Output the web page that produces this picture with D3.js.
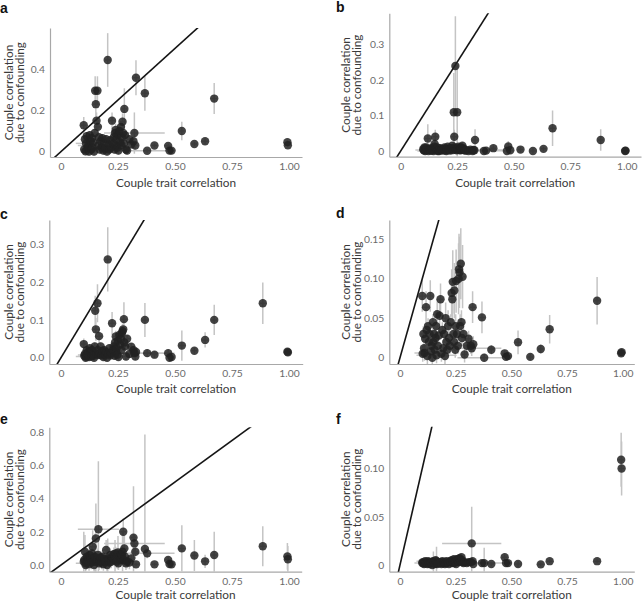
<!DOCTYPE html>
<html><head><meta charset="utf-8">
<script src="https://cdn.jsdelivr.net/npm/d3@7"></script>
<style>body{margin:0;background:#fff} svg{display:block}</style>
</head><body>
<svg id="chart" width="642" height="601"></svg>
<script>
// Couple trait correlation (shared across panels) and its CI half-width
const traitX = [0.100,0.102,0.105,0.108,0.110,0.113,0.117,0.120,0.123,0.126,
 0.130,0.133,0.136,0.139,0.142,0.145,0.148,0.150,0.153,0.156,
 0.160,0.162,0.164,0.167,0.170,0.174,0.178,0.182,0.186,0.190,
 0.194,0.198,0.202,0.205,0.208,0.212,0.216,0.220,0.224,0.228,
 0.232,0.235,0.237,0.240,0.242,0.244,0.248,0.250,0.252,0.256,
 0.260,0.263,0.265,0.267,0.270,0.273,0.276,0.278,0.281,0.285,
 0.290,0.300,0.308,0.318,0.322,0.326,0.329,0.368,0.378,0.410,
 0.470,0.476,0.485,0.530,0.585,0.632,0.672,0.885,0.993,0.995];
const traitXErr = [0.012,0.012,0.012,0.012,0.045,0.012,0.012,0.012,0.012,0.012,
 0.012,0.012,0.012,0.012,0.012,0.012,0.012,0.012,0.012,0.012,
 0.012,0.012,0.090,0.012,0.012,0.012,0.012,0.012,0.012,0.012,
 0.012,0.012,0.012,0.012,0.012,0.012,0.012,0.012,0.012,0.012,
 0.012,0.012,0.012,0.012,0.012,0.012,0.012,0.012,0.012,0.012,
 0.012,0.012,0.012,0.012,0.012,0.012,0.012,0.012,0.012,0.012,
 0.012,0.012,0.012,0.012,0.133,0.012,0.012,0.012,0.120,0.012,
 0.012,0.012,0.012,0.012,0.012,0.012,0.012,0.012,0.012,0.012];

// Couple correlation due to confounding, per panel (value and CI half-width)
const aY = [0.128,0.010,0.060,0.002,0.040,0.075,0.020,0.030,0.000,0.080,
 0.050,0.010,0.065,0.020,0.045,0.000,0.090,0.295,0.230,0.150,
 0.295,0.120,0.030,0.070,0.010,0.050,0.020,0.065,0.005,0.040,
 0.015,0.060,0.000,0.444,0.035,0.010,0.055,0.020,0.150,0.040,
 0.070,0.010,0.090,0.105,0.030,0.060,0.020,0.080,0.005,0.100,
 0.045,0.120,0.030,0.070,0.145,0.090,0.040,0.207,0.080,0.010,
 0.005,0.060,0.035,0.050,0.090,0.030,0.358,0.283,0.004,0.030,
 0.028,0.005,0.005,0.100,0.037,0.050,0.257,null,0.046,0.031];
const aE = [0.04,0.02,0.02,0.02,0.02,0.02,0.02,0.02,0.02,0.02,
 0.02,0.02,0.02,0.02,0.02,0.02,0.02,0.07,0.06,0.04,
 0.07,0.03,0.02,0.02,0.02,0.02,0.02,0.02,0.02,0.02,
 0.02,0.02,0.02,0.13,0.02,0.02,0.02,0.02,0.04,0.02,
 0.02,0.02,0.02,0.03,0.02,0.02,0.02,0.02,0.02,0.03,
 0.02,0.03,0.02,0.02,0.04,0.03,0.02,0.10,0.02,0.02,
 0.02,0.02,0.02,0.02,0.10,0.02,0.085,0.085,0.01,0.01,
 0.01,0.01,0.01,0.045,0.01,0.015,0.075,null,0.01,0.01];

const bY = [0.005,0.002,0.010,0.000,0.003,0.010,0.003,0.035,0.000,0.006,
 0.004,0.001,0.008,0.002,0.005,0.000,0.012,0.020,0.040,0.006,
 0.003,0.010,0.000,0.002,0.000,0.008,0.003,0.004,0.001,0.006,
 0.010,0.002,0.000,0.005,0.012,0.003,0.005,0.001,0.008,0.015,
 0.003,0.109,0.040,0.010,0.239,0.004,0.002,0.109,0.006,0.012,
 0.003,0.008,0.002,0.010,0.004,0.015,0.005,0.007,0.003,0.001,
 0.002,0.000,0.004,0.000,0.003,0.002,0.031,0.000,0.001,0.008,
 0.000,0.013,0.002,0.004,0.000,0.006,0.064,0.031,0.000,0.001];
const bE = [0.008,0.008,0.008,0.008,0.008,0.008,0.008,0.04,0.008,0.008,
 0.008,0.008,0.008,0.008,0.008,0.008,0.008,0.008,0.02,0.008,
 0.008,0.008,0.008,0.008,0.008,0.008,0.008,0.008,0.008,0.008,
 0.008,0.008,0.008,0.008,0.008,0.008,0.008,0.008,0.008,0.01,
 0.008,0.11,0.02,0.008,0.14,0.008,0.008,0.13,0.008,0.008,
 0.008,0.008,0.008,0.008,0.008,0.01,0.008,0.008,0.008,0.008,
 0.008,0.008,0.008,0.008,0.008,0.008,0.03,0.008,0.008,0.008,
 0.008,0.015,0.008,0.008,0.008,0.006,0.05,0.03,0.004,0.004];

const cY = [0.036,0.005,0.010,0.000,0.003,0.020,0.010,0.015,0.002,0.025,
 0.012,0.004,0.020,0.008,0.005,0.000,0.030,0.124,0.075,0.010,
 0.144,0.020,0.007,0.057,0.012,0.030,0.006,0.018,0.002,0.020,
 0.008,0.015,0.000,0.260,0.010,0.025,0.006,0.012,0.091,0.020,
 0.030,0.005,0.040,0.056,0.015,0.025,0.008,0.045,0.002,0.060,
 0.035,0.050,0.020,0.065,0.070,0.075,0.102,0.040,0.030,0.003,
 0.050,0.010,0.029,0.020,0.012,0.003,0.015,0.100,0.012,0.008,
 0.012,0.000,0.002,0.032,0.0185,0.047,0.100,0.144,0.016,0.014];
const cE = [0.015,0.01,0.01,0.01,0.01,0.01,0.01,0.01,0.01,0.01,
 0.01,0.01,0.01,0.01,0.01,0.01,0.01,0.04,0.03,0.01,
 0.05,0.01,0.01,0.02,0.01,0.01,0.01,0.01,0.01,0.01,
 0.01,0.01,0.01,0.085,0.01,0.01,0.01,0.01,0.03,0.01,
 0.01,0.01,0.01,0.015,0.01,0.01,0.01,0.01,0.01,0.015,
 0.01,0.01,0.01,0.015,0.02,0.015,0.045,0.01,0.01,0.01,
 0.01,0.01,0.01,0.01,0.01,0.01,0.01,0.045,0.01,0.01,
 0.01,0.01,0.01,0.04,0.008,0.02,0.04,0.055,0.005,0.005];

const dY = [0.078,0.005,0.030,0.012,0.006,0.024,0.064,0.035,0.002,0.040,
 0.020,0.030,0.078,0.008,0.015,0.000,0.045,0.020,0.030,0.010,
 0.025,0.040,0.003,0.055,0.015,0.028,0.053,0.074,0.005,0.035,
 0.012,0.030,0.002,0.050,0.020,0.010,0.040,0.025,0.015,0.045,
 0.082,0.074,0.096,0.030,0.020,0.085,0.010,0.040,0.097,0.030,
 0.015,0.100,0.112,0.108,0.040,0.119,0.045,0.025,0.1025,0.030,
 0.004,0.015,0.024,0.015,0.012,0.064,0.017,0.051,0.000,0.010,
 0.0055,0.001,0.002,0.0195,0.001,0.011,0.036,0.072,0.0055,0.007];
const dE = [0.02,0.01,0.01,0.01,0.01,0.01,0.02,0.01,0.01,0.01,
 0.01,0.01,0.02,0.01,0.01,0.01,0.01,0.01,0.01,0.01,
 0.01,0.02,0.01,0.02,0.01,0.01,0.02,0.02,0.01,0.01,
 0.01,0.01,0.01,0.02,0.01,0.01,0.02,0.01,0.01,0.01,
 0.03,0.03,0.04,0.01,0.01,0.035,0.01,0.015,0.04,0.01,
 0.01,0.045,0.045,0.045,0.015,0.045,0.015,0.01,0.04,0.01,
 0.01,0.01,0.01,0.01,0.01,0.02,0.01,0.02,0.005,0.006,
 0.004,0.004,0.004,0.015,0.004,0.006,0.018,0.03,0.003,0.003];

const eY = [0.020,0.030,0.080,0.000,0.010,0.050,0.025,0.040,0.005,0.060,
 0.030,0.015,0.070,0.110,0.020,0.000,0.050,0.040,0.160,0.020,
 0.030,0.060,0.215,0.010,0.025,0.045,0.015,0.050,0.005,0.035,
 0.020,0.090,0.000,0.040,0.030,0.015,0.060,0.020,0.050,0.040,
 0.065,0.030,0.050,0.070,0.040,0.020,0.060,0.075,0.010,0.050,
 0.030,0.065,0.040,0.060,0.080,0.200,0.030,0.100,0.050,0.010,
 0.020,0.015,0.040,0.165,0.130,0.080,0.004,0.096,0.070,0.004,
 0.030,0.006,0.004,0.100,0.057,0.022,0.060,0.113,0.052,0.035];
const eE = [0.18,0.04,0.10,0.04,0.04,0.04,0.04,0.04,0.04,0.04,
 0.04,0.04,0.04,0.10,0.04,0.04,0.04,0.15,0.21,0.04,
 0.04,0.04,0.41,0.04,0.04,0.04,0.04,0.04,0.04,0.04,
 0.04,0.06,0.04,0.12,0.04,0.04,0.04,0.04,0.04,0.04,
 0.04,0.04,0.10,0.04,0.04,0.04,0.04,0.10,0.04,0.04,
 0.04,0.04,0.04,0.04,0.12,0.08,0.04,0.08,0.04,0.04,
 0.04,0.04,0.04,0.31,0.05,0.04,0.01,0.69,0.03,0.01,
 0.02,0.01,0.01,0.14,0.093,0.04,0.14,0.12,0.08,0.08];

const fY = [0.002,0.003,0.002,0.001,0.002,0.004,0.002,0.003,0.001,0.004,
 0.002,0.001,0.003,0.002,0.003,0.000,0.004,0.002,0.003,0.001,
 0.005,0.002,0.004,0.001,0.002,0.003,0.002,0.003,0.001,0.004,
 0.002,0.003,0.001,0.002,0.004,0.002,0.003,0.001,0.004,0.003,
 0.005,0.002,0.004,0.003,0.006,0.002,0.003,0.005,0.001,0.006,
 0.004,0.006,0.003,0.007,0.005,0.004,0.008,0.005,0.003,0.002,
 0.003,0.002,0.003,0.003,0.0224,0.004,0.001,0.002,0.002,0.001,
 0.008,0.002,0.002,0.001,null,0.0007,0.004,0.004,0.109,0.100];
const fE = [0.002,0.002,0.002,0.002,0.002,0.002,0.002,0.002,0.002,0.002,
 0.002,0.002,0.002,0.002,0.002,0.002,0.002,0.012,0.002,0.002,
 0.002,0.002,0.015,0.002,0.002,0.002,0.002,0.002,0.002,0.002,
 0.002,0.002,0.002,0.002,0.002,0.002,0.002,0.002,0.002,0.002,
 0.002,0.002,0.002,0.002,0.002,0.002,0.002,0.002,0.002,0.002,
 0.002,0.002,0.002,0.002,0.002,0.002,0.002,0.002,0.002,0.002,
 0.002,0.002,0.002,0.002,0.038,0.002,0.002,0.003,0.016,0.002,
 0.003,0.002,0.002,0.003,null,0.002,0.002,0.002,0.028,0.028];

// Tick values and labels
const xTickValues = [0, 0.25, 0.5, 0.75, 1];
const xTickLabels = ["0", "0.25", "0.50", "0.75", "1.00"];
const aTicks = [0, 0.2, 0.4],            aTickLabels = ["0", "0.2", "0.4"];
const bTicks = [0, 0.1, 0.2, 0.3],       bTickLabels = ["0", "0.1", "0.2", "0.3"];
const cTicks = [0, 0.1, 0.2, 0.3],       cTickLabels = ["0.0", "0.1", "0.2", "0.3"];
const dTicks = [0, 0.05, 0.10, 0.15],    dTickLabels = ["0", "0.05", "0.10", "0.15"];
const eTicks = [0, 0.2, 0.4, 0.6, 0.8],  eTickLabels = ["0.0", "0.2", "0.4", "0.6", "0.8"];
const fTicks = [0, 0.05, 0.10],          fTickLabels = ["0", "0.05", "0.10"];

const xTitle = "Couple trait correlation";
const yTitle = ["Couple correlation", "due to confounding"];

// Layout (positions only)
const panels = [
  {k:"a", y:aY, e:aE, yt:aTicks, yl:aTickLabels, l:50,   r:302,   t:28,    b:157,   xd:[-0.048,1.057], yd:[-0.026,0.599], lx:0,   ly:12.5, tx:12.8, ty:187},
  {k:"b", y:bY, e:bE, yt:bTicks, yl:bTickLabels, l:389.3,r:641,   t:13.3,  b:156.7, xd:[-0.0504,1.0633], yd:[-0.016,0.387], lx:336, ly:12, tx:350.3, ty:187},
  {k:"c", y:cY, e:cE, yt:cTicks, yl:cTickLabels, l:49.3, r:302.7, t:220,   b:364,   xd:[-0.0513,1.060], yd:[-0.0167,0.3643], lx:0, ly:218.5, tx:12.8, ty:393},
  {k:"d", y:dY, e:dE, yt:dTicks, yl:dTickLabels, l:389.3,r:634.3, t:220,   b:364,   xd:[-0.048,1.052], yd:[-0.008,0.1743], lx:336, ly:218, tx:350.3, ty:393},
  {k:"e", y:eY, e:eE, yt:eTicks, yl:eTickLabels, l:49.3, r:301.7, t:427.3, b:571.7, xd:[-0.0513,1.0557], yd:[-0.0404,0.8295], lx:0, ly:423.5, tx:12.8, ty:598.5},
  {k:"f", y:fY, e:fE, yt:fTicks, yl:fTickLabels, l:389.3,r:634.3, t:426.7, b:571.7, xd:[-0.048,1.052], yd:[-0.0069,0.1432], lx:336, ly:424, tx:350.3, ty:598.5}
];

const FONT = "Lato, 'Open Sans', sans-serif";
const svg = d3.select("#chart");
const defs = svg.append("defs");

panels.forEach((p, pi) => {
  const x = d3.scaleLinear().domain(p.xd).range([p.l, p.r]);
  const y = d3.scaleLinear().domain(p.yd).range([p.b, p.t]);
  const cid = "clip" + pi;
  defs.append("clipPath").attr("id", cid).append("rect")
    .attr("x", p.l).attr("y", p.t).attr("width", p.r - p.l).attr("height", p.b - p.t);

  const g = svg.append("g");
  const pts = traitX.map((tx, i) => ({x: tx, xe: traitXErr[i], y: p.y[i], e: p.e[i]}))
    .filter(d => d.y !== null);

  // axes
  const ya = d3.axisLeft(y).tickValues(p.yt).tickFormat((d, i) => p.yl[i])
    .tickSize(0).tickSizeOuter(0).tickPadding(5);
  const xa = d3.axisBottom(x).tickValues(xTickValues).tickFormat((d, i) => xTickLabels[i])
    .tickSize(0).tickSizeOuter(0).tickPadding(6);
  const gy = g.append("g").attr("transform", `translate(${p.l},0)`).call(ya);
  const gx = g.append("g").attr("transform", `translate(0,${p.b})`).call(xa);
  [gx, gy].forEach(a => {
    a.select(".domain").attr("stroke", "#a8a8a8").attr("stroke-width", 1.2);
    a.selectAll("text").attr("fill", "#6a6a6a").style("font-family", FONT).style("font-size", "10.3px");
  });

  const plot = g.append("g").attr("clip-path", `url(#${cid})`);
  // error bars
  plot.selectAll("line.ve").data(pts).join("line").attr("class", "ve")
    .attr("x1", d => x(d.x)).attr("x2", d => x(d.x))
    .attr("y1", d => y(d.y - d.e)).attr("y2", d => y(d.y + d.e))
    .attr("stroke", "#c4c4c4").attr("stroke-width", 1.5);
  plot.selectAll("line.he").data(pts).join("line").attr("class", "he")
    .attr("x1", d => x(d.x - d.xe)).attr("x2", d => x(d.x + d.xe))
    .attr("y1", d => y(d.y)).attr("y2", d => y(d.y))
    .attr("stroke", "#c4c4c4").attr("stroke-width", 1.5);
  // identity line y = x
  plot.append("line")
    .attr("x1", x(-1)).attr("y1", y(-1)).attr("x2", x(2)).attr("y2", y(2))
    .attr("stroke", "#151515").attr("stroke-width", 1.6);

  // points
  g.append("g").selectAll("circle").data(pts).join("circle")
    .attr("cx", d => x(d.x)).attr("cy", d => y(d.y)).attr("r", 4.2)
    .attr("fill", "#222").attr("fill-opacity", 0.85);

  // titles
  g.append("text").attr("x", (p.l + p.r) / 2).attr("y", p.ty)
    .attr("text-anchor", "middle").attr("fill", "#3a3a3a")
    .style("font-family", FONT).style("font-size", "11.8px").text(xTitle);
  const yt = g.append("g").attr("transform", `translate(${p.tx},${(p.t + p.b) / 2}) rotate(-90)`);
  yTitle.forEach((s, i) => yt.append("text").attr("x", 0).attr("y", i * 11)
    .attr("text-anchor", "middle").attr("fill", "#3a3a3a")
    .style("font-family", FONT).style("font-size", "11.8px").text(s));

  g.append("text").attr("x", p.lx).attr("y", p.ly).text(p.k)
    .attr("fill", "#111").style("font-family", "'Liberation Sans', Arial, sans-serif")
    .style("font-weight", "bold").style("font-size", "14px");
});
</script>
</body></html>
